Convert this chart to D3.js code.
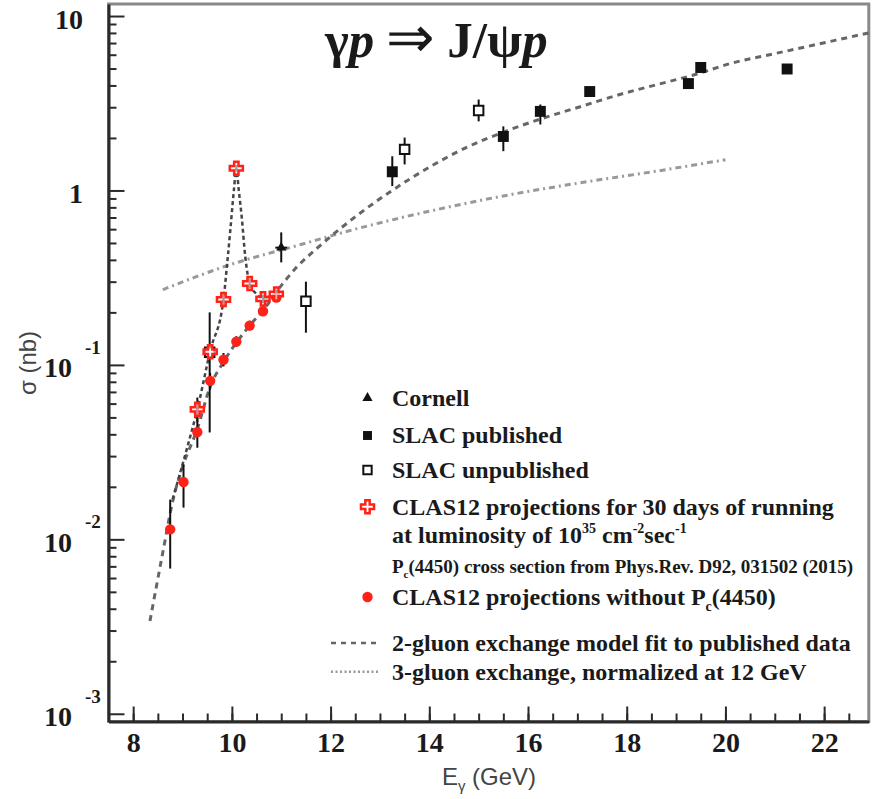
<!DOCTYPE html>
<html lang="en">
<head>
<meta charset="UTF-8">
<title>gamma p to J/psi p</title>
<style>
  body { margin: 0; padding: 0; background: #fff; }
  svg { display: block; }
  .serif { font-family: "Liberation Serif", "Times New Roman", serif; font-weight: bold; fill: #1a1a1a; }
  .sans { font-family: "Liberation Sans", Arial, sans-serif; fill: #444; }
  .axis path, .axis line { stroke: #2a2a2a; }
</style>
</head>
<body>
<div id="chart"></div>
<script src="https://cdn.jsdelivr.net/npm/d3@7"></script>
<script>
// ---- data ----
// SLAC published
const slacPubE  = [13.25, 15.5, 16.25, 17.25, 19.25, 19.5, 21.25];
const slacPubS  = [1.28, 2.04, 2.84, 3.69, 4.1, 5.07, 4.97];
const slacPubLo = [1.06, 1.68, 2.39, 3.45, 3.85, 4.8, 4.7];
const slacPubHi = [1.57, 2.33, 3.11, 3.95, 4.35, 5.35, 5.25];

// SLAC unpublished
const slacUnpE  = [9.55, 11.5, 13.5, 15.0];
const slacUnpS  = [0.118, 0.232, 1.72, 2.87];
const slacUnpLo = [0.041, 0.153, 1.41, 2.49];
const slacUnpHi = [0.2, 0.30, 2.01, 3.32];

// Cornell
const cornellE  = [11.0];
const cornellS  = [0.47];
const cornellLo = [0.387];
const cornellHi = [0.575];
const cornellDx = [0.12];

// CLAS12 projections with Pc(4450)
const clasPcE  = [9.3, 9.56, 9.83, 10.09, 10.36, 10.63, 10.9];
const clasPcS  = [0.0556, 0.119, 0.237, 1.34, 0.293, 0.239, 0.255];
const clasPcLo = [0.047, 0.108, 0.22, 1.28, 0.275, 0.225, 0.24];
const clasPcHi = [0.065, 0.13, 0.255, 1.4, 0.31, 0.253, 0.27];

// CLAS12 projections without Pc(4450)
const clasE  = [8.75, 9.02, 9.3, 9.56, 9.83, 10.09, 10.36, 10.63, 10.9];
const clasS  = [0.0114, 0.0213, 0.0412, 0.081, 0.107, 0.136, 0.168, 0.203, 0.243];
const clasLo = [0.0068, 0.0152, 0.0335, 0.072, 0.098, 0.127, 0.158, 0.192, 0.23];
const clasHi = [0.0169, 0.0269, 0.05, 0.09, 0.117, 0.146, 0.179, 0.215, 0.257];

// curves
const gluon2E = [8.34, 8.6, 8.8, 9.0, 9.3, 9.56, 9.83, 10.09, 10.36, 10.63, 10.98, 11.3, 11.74, 12.51, 13.27, 14.04, 14.8, 15.56, 16.33, 17.09, 17.86, 18.62, 19.39, 20.15, 20.92, 21.68, 22.9];
const gluon2S = [0.0034, 0.0084, 0.0165, 0.026, 0.043, 0.075, 0.104, 0.134, 0.168, 0.205, 0.28, 0.36, 0.47, 0.71, 1.01, 1.38, 1.79, 2.19, 2.61, 3.04, 3.55, 4.05, 4.62, 5.39, 6.02, 6.71, 8.0];

const gluon3E = [8.6, 9.9, 11.4, 12.5, 14.0, 15.5, 17.0, 18.6, 20.0];
const gluon3S = [0.27, 0.37, 0.49, 0.6, 0.76, 0.93, 1.1, 1.29, 1.5];

const pcCurveE = [8.8, 9.1, 9.3, 9.56, 9.83, 9.9, 9.97, 10.04, 10.09, 10.14, 10.2, 10.27, 10.36, 10.5, 10.63, 10.9, 11.0];
const pcCurveS = [0.017, 0.034, 0.0556, 0.12, 0.237, 0.37, 0.6, 1.0, 1.34, 1.0, 0.7, 0.42, 0.293, 0.255, 0.24, 0.25, 0.27];

// axis ticks
const xMajor = [8, 10, 12, 14, 16, 18, 20, 22];
const yMajor = [0.001, 0.01, 0.1, 1, 10];
const yLabelExp = ["-3", "-2", "-1", "", ""];
const yLabelBase = ["10", "10", "10", "1", "10"];

// ---- chart ----
const W = 872, H = 799;
const red = "#ff2218";

const svg = d3.select("#chart").append("svg")
    .attr("width", W)
    .attr("height", H);

const x = d3.scaleLinear().domain([7.5, 22.905]).range([108.5, 868.8]);
const y = d3.scaleLog().domain([0.000903, 11.72]).range([721.5, 4]);

// frame (top/right gray)
svg.append("rect")
    .attr("x", x(7.5)).attr("y", y(11.72))
    .attr("width", x(22.905) - x(7.5))
    .attr("height", y(0.000903) - y(11.72))
    .attr("fill", "none")
    .attr("stroke", "#8a8a8a")
    .attr("stroke-width", 3);

// x axis, minor + major ticks pointing inward
const minorX = d3.range(7.5, 22.91, 0.5);
svg.append("g").attr("class", "axis")
    .attr("transform", `translate(0,${y(0.000903)})`)
    .call(d3.axisBottom(x).tickValues(minorX).tickSizeInner(-8).tickSizeOuter(0).tickFormat(""))
    .call(g => g.select(".domain").remove())
    .selectAll("line").attr("stroke-width", 2);

const xAxis = svg.append("g").attr("class", "axis serif")
    .attr("transform", `translate(0,${y(0.000903)})`)
    .call(d3.axisBottom(x).tickValues(xMajor).tickSizeInner(-15).tickSizeOuter(0).tickPadding(11).tickFormat(d3.format("d")));
xAxis.select(".domain").attr("stroke-width", 3);
xAxis.selectAll("line").attr("stroke-width", 2);
xAxis.selectAll("text")
    .attr("font-family", '"Liberation Serif", serif')
    .attr("font-weight", "bold")
    .attr("font-size", 28)
    .attr("fill", "#1a1a1a");

// y axis
const minorY = [];
[-3, -2, -1, 0, 1].forEach(p => d3.range(2, 10).forEach(m => {
    const v = m * Math.pow(10, p);
    if (v < 11.72) minorY.push(v);
}));
svg.append("g").attr("class", "axis")
    .attr("transform", `translate(${x(7.5)},0)`)
    .call(d3.axisLeft(y).tickValues(minorY).tickSizeInner(-8).tickSizeOuter(0).tickFormat(""))
    .call(g => g.select(".domain").remove())
    .selectAll("line").attr("stroke-width", 2);

const yAxis = svg.append("g").attr("class", "axis")
    .attr("transform", `translate(${x(7.5)},0)`)
    .call(d3.axisLeft(y).tickValues(yMajor).tickSizeInner(-16).tickSizeOuter(0).tickFormat(""));
yAxis.select(".domain").attr("stroke-width", 3);
yAxis.selectAll("line").attr("stroke-width", 2);

// y tick labels: 10 with exponent
yMajor.forEach((v, i) => {
    const ty = y(v);
    const hasExp = yLabelExp[i] !== "";
    svg.append("text").attr("class", "serif")
        .attr("x", hasExp ? 72 : 83)
        .attr("y", ty + 12.5)
        .attr("text-anchor", "end")
        .attr("font-size", 28)
        .text(yLabelBase[i]);
    if (hasExp) {
        svg.append("text").attr("class", "serif")
            .attr("x", 85)
            .attr("y", ty - 11)
            .attr("font-size", 19)
            .text(yLabelExp[i]);
    }
});

// axis titles
svg.append("text").attr("class", "sans")
    .attr("transform", `translate(36,363) rotate(-90)`)
    .attr("text-anchor", "middle")
    .attr("font-size", 24)
    .text("σ (nb)");

const xt = svg.append("text").attr("class", "sans")
    .attr("x", 489).attr("y", 785)
    .attr("text-anchor", "middle")
    .attr("font-size", 24);
xt.append("tspan").text("E");
xt.append("tspan").attr("font-size", 15).attr("dy", 6).text("γ");
xt.append("tspan").attr("dy", -6).text(" (GeV)");

// title
const title = svg.append("text").attr("class", "serif")
    .attr("x", 325).attr("y", 57)
    .attr("font-size", 51);
title.append("tspan").text("γ");
title.append("tspan").attr("font-style", "italic").text("p");
title.append("tspan").attr("font-weight", "normal").attr("font-size", 58).attr("dx", 12).text("⇒");
title.append("tspan").attr("dx", 12).text("J/ψ");
title.append("tspan").attr("font-style", "italic").text("p");

// ---- curves ----
const zip = (E, S) => E.map((e, i) => [e, S[i]]);
const line = d3.line().x(d => x(d[0])).y(d => y(d[1])).curve(d3.curveMonotoneX);

svg.append("path")
    .attr("d", line(zip(gluon3E, gluon3S)))
    .attr("fill", "none")
    .attr("stroke", "#999")
    .attr("stroke-width", 3)
    .attr("stroke-dasharray", "6,4,2,4");

svg.append("path")
    .attr("d", line(zip(gluon2E, gluon2S)))
    .attr("fill", "none")
    .attr("stroke", "#666")
    .attr("stroke-width", 3)
    .attr("stroke-dasharray", "6,5");

svg.append("path")
    .attr("d", line(zip(pcCurveE, pcCurveS)))
    .attr("fill", "none")
    .attr("stroke", "#444")
    .attr("stroke-width", 2.5)
    .attr("stroke-dasharray", "4,3");

// ---- error bars ----
function errBars(E, lo, hi, dx) {
    svg.append("g").selectAll("line")
        .data(E)
        .join("line")
        .attr("x1", d => x(d)).attr("x2", d => x(d))
        .attr("y1", (d, i) => y(lo[i])).attr("y2", (d, i) => y(hi[i]))
        .attr("stroke", "#111").attr("stroke-width", 2);
    if (dx) {
        svg.append("g").selectAll("line")
            .data(E)
            .join("line")
            .attr("x1", (d, i) => x(d - dx[i])).attr("x2", (d, i) => x(d + dx[i]))
            .attr("y1", (d, i) => y(cornellS[i])).attr("y2", (d, i) => y(cornellS[i]))
            .attr("stroke", "#111").attr("stroke-width", 2);
    }
}
errBars(slacPubE, slacPubLo, slacPubHi);
errBars(slacUnpE, slacUnpLo, slacUnpHi);
errBars(cornellE, cornellLo, cornellHi, cornellDx);
errBars(clasE, clasLo, clasHi);
errBars(clasPcE, clasPcLo, clasPcHi);

// ---- markers ----
const sq = d3.symbol().type(d3.symbolSquare);
const cross = d3.symbol().type(d3.symbolCross).size(95);
const tri = d3.symbol().type(d3.symbolTriangle).size(45);

svg.append("g").selectAll("path")
    .data(zip(slacUnpE, slacUnpS))
    .join("path")
    .attr("transform", d => `translate(${x(d[0])},${y(d[1])})`)
    .attr("d", sq.size(90)())
    .attr("fill", "#fff").attr("stroke", "#111").attr("stroke-width", 2);

svg.append("g").selectAll("path")
    .data(zip(slacPubE, slacPubS))
    .join("path")
    .attr("transform", d => `translate(${x(d[0])},${y(d[1])})`)
    .attr("d", d3.symbol().type(d3.symbolSquare).size(120)())
    .attr("fill", "#111");

svg.append("g").selectAll("path")
    .data(zip(cornellE, cornellS))
    .join("path")
    .attr("transform", d => `translate(${x(d[0])},${y(d[1])})`)
    .attr("d", tri())
    .attr("fill", "#111");

svg.append("g").selectAll("circle")
    .data(zip(clasE, clasS))
    .join("circle")
    .attr("cx", d => x(d[0])).attr("cy", d => y(d[1]))
    .attr("r", 5.2)
    .attr("fill", red);

svg.append("g").selectAll("path")
    .data(zip(clasPcE, clasPcS))
    .join("path")
    .attr("transform", d => `translate(${x(d[0])},${y(d[1])})`)
    .attr("d", cross())
    .attr("fill", "#fff").attr("fill-opacity", 0.6)
    .attr("stroke", red).attr("stroke-width", 2.5);

// ---- legend ----
const lg = svg.append("g");
const mx = 367.5, tx = 392, fs = 24;

function legendText(yc, str, size) {
    return lg.append("text").attr("class", "serif")
        .attr("x", tx).attr("y", yc + (size || fs) * 0.33)
        .attr("font-size", size || fs)
        .text(str);
}

lg.append("path").attr("transform", `translate(${mx},398)`).attr("d", tri()).attr("fill", "#111");
legendText(398, "Cornell");

lg.append("path").attr("transform", `translate(${mx},435.5)`)
    .attr("d", d3.symbol().type(d3.symbolSquare).size(80)()).attr("fill", "#111");
legendText(435.5, "SLAC published");

lg.append("path").attr("transform", `translate(${mx},470)`)
    .attr("d", d3.symbol().type(d3.symbolSquare).size(70)())
    .attr("fill", "#fff").attr("stroke", "#111").attr("stroke-width", 2);
legendText(470, "SLAC unpublished");

lg.append("path").attr("transform", `translate(${mx},506.7)`).attr("d", cross())
    .attr("fill", "#fff").attr("stroke", red).attr("stroke-width", 2.5);
legendText(506.7, "CLAS12 projections for 30 days of running");

const lum = legendText(535, "at luminosity of 10");
lum.append("tspan").attr("font-size", 14).attr("dy", -10).text("35");
lum.append("tspan").attr("dy", 10).text(" cm");
lum.append("tspan").attr("font-size", 14).attr("dy", -10).text("-2");
lum.append("tspan").attr("dy", 10).text("sec");
lum.append("tspan").attr("font-size", 14).attr("dy", -10).text("-1");

const pc1 = legendText(566.7, "P", 19);
pc1.append("tspan").attr("font-size", 11).attr("dy", 5).text("c");
pc1.append("tspan").attr("dy", -5).text("(4450) cross section from Phys.Rev. D92, 031502 (2015)");

lg.append("circle").attr("cx", mx).attr("cy", 597).attr("r", 5.2).attr("fill", red);
const pc2 = legendText(597, "CLAS12 projections without P");
pc2.append("tspan").attr("font-size", 14).attr("dy", 6).text("c");
pc2.append("tspan").attr("dy", -6).text("(4450)");

lg.append("line").attr("x1", 331).attr("x2", 380).attr("y1", 643).attr("y2", 643)
    .attr("stroke", "#666").attr("stroke-width", 2.5).attr("stroke-dasharray", "5,5");
legendText(643, "2-gluon exchange model fit to published data");

lg.append("line").attr("x1", 331).attr("x2", 380).attr("y1", 671.7).attr("y2", 671.7)
    .attr("stroke", "#999").attr("stroke-width", 2.5).attr("stroke-dasharray", "2,2.5");
legendText(671.7, "3-gluon exchange, normalized at 12 GeV");
</script>
</body>
</html>
